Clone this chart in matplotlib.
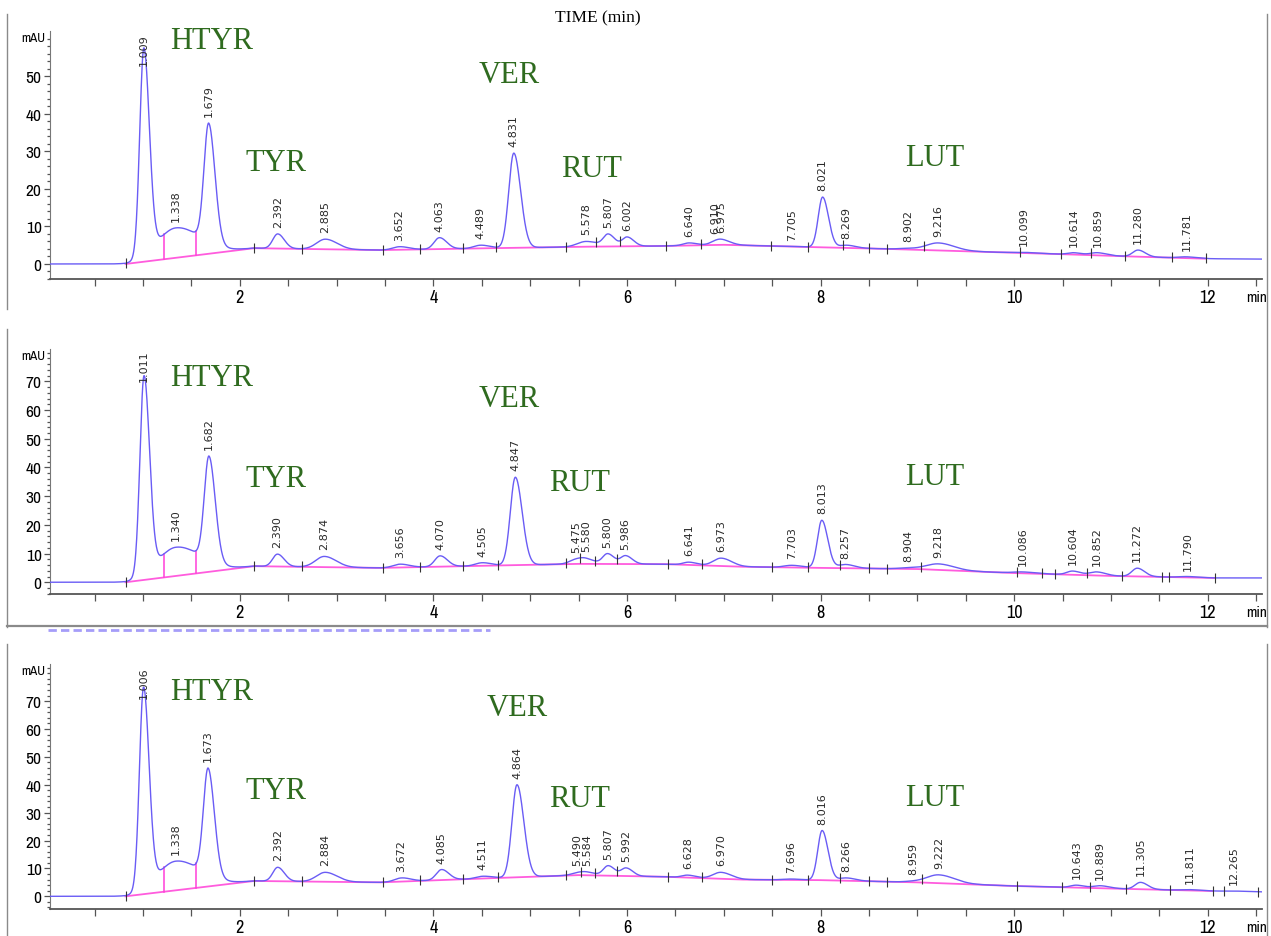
import numpy as np
import matplotlib
matplotlib.use("Agg")
import matplotlib.pyplot as plt
from matplotlib import font_manager
from matplotlib.lines import Line2D

# ---- panel 1 : peaks (retention time, apex mAU, width) ----
rt1 = [1.009, 1.338, 1.679, 2.392, 2.885, 3.652, 4.063, 4.489, 4.831, 5.578, 5.807, 6.002,
       6.640, 6.910, 6.975, 7.705, 8.021, 8.269, 8.902, 9.216, 10.099, 10.614, 10.859, 11.280, 11.781]
apex1 = [57.5, 9.6, 37.5, 8.0, 6.6, 4.6, 7.0, 5.0, 29.5, 6.0, 8.0, 7.2,
         5.6, 6.3, 6.6, 4.6, 17.8, 5.0, 4.2, 5.6, 3.1, 3.0, 3.0, 3.7, 1.9]
sig1 = [0.042, 0.19, 0.048, 0.05, 0.09, 0.07, 0.055, 0.07, 0.052, 0.09, 0.05, 0.05,
        0.06, 0.06, 0.07, 0.08, 0.045, 0.07, 0.09, 0.12, 0.1, 0.06, 0.07, 0.055, 0.08]
bgt1 = [0.04, 0.82, 2.15, 3.45, 4.6, 5.6, 6.4, 7.0, 7.9, 8.7, 9.6, 10.5, 11.2, 11.98, 12.56]
bgy1 = [0.0, 0.0, 4.2, 3.7, 4.2, 4.6, 4.8, 5.1, 4.5, 4.0, 3.3, 2.6, 2.0, 1.4, 1.3]
cuts1 = [0.82, 2.15, 2.64, 3.48, 3.86, 4.31, 4.65, 5.37, 5.68, 5.93, 6.40, 6.77, 7.49, 7.87,
         8.23, 8.50, 8.69, 9.07, 10.06, 10.48, 10.79, 11.14, 11.63, 11.98]

# ---- panel 2 ----
rt2 = [1.011, 1.340, 1.682, 2.390, 2.874, 3.656, 4.070, 4.505, 4.847, 5.475, 5.580, 5.800,
       5.986, 6.641, 6.973, 7.703, 8.013, 8.257, 8.904, 9.218, 10.086, 10.604, 10.852, 11.272, 11.790]
apex2 = [72.0, 12.2, 44.0, 9.8, 9.0, 6.3, 9.2, 6.8, 36.6, 8.2, 8.4, 10.0,
         9.3, 7.0, 8.4, 5.9, 21.6, 6.2, 5.1, 6.4, 3.6, 3.9, 3.6, 4.9, 2.0]
sig2 = [0.042, 0.19, 0.048, 0.05, 0.09, 0.07, 0.055, 0.07, 0.052, 0.07, 0.07, 0.05,
        0.05, 0.06, 0.08, 0.08, 0.045, 0.07, 0.09, 0.12, 0.1, 0.06, 0.07, 0.055, 0.08]
bgt2 = [0.04, 0.82, 2.15, 3.45, 4.6, 5.5, 6.4, 7.2, 8.0, 9.0, 10.0, 11.0, 12.07, 12.56]
bgy2 = [0.0, 0.0, 5.6, 5.0, 5.8, 6.4, 6.3, 5.4, 5.0, 4.6, 3.2, 2.2, 1.5, 1.5]
cuts2 = [0.82, 2.15, 2.64, 3.48, 3.86, 4.31, 4.67, 5.37, 5.51, 5.67, 5.90, 6.42, 6.78, 7.50,
         7.87, 8.20, 8.50, 8.69, 9.04, 10.03, 10.29, 10.42, 10.75, 11.11, 11.53, 11.60, 12.07]

# ---- panel 3 ----
rt3 = [1.006, 1.338, 1.673, 2.392, 2.884, 3.672, 4.085, 4.511, 4.864, 5.490, 5.584, 5.807,
       5.992, 6.628, 6.970, 7.696, 8.016, 8.266, 8.959, 9.222, 10.643, 10.889, 11.305, 11.811, 12.265]
apex3 = [75.0, 12.6, 46.0, 10.4, 8.6, 6.6, 9.6, 7.2, 40.0, 8.6, 8.8, 11.0,
         10.2, 7.6, 8.6, 6.2, 23.6, 6.6, 5.6, 7.7, 4.0, 3.8, 5.0, 2.4, 1.9]
sig3 = [0.042, 0.19, 0.048, 0.05, 0.09, 0.07, 0.055, 0.07, 0.052, 0.07, 0.07, 0.05,
        0.05, 0.06, 0.08, 0.08, 0.045, 0.07, 0.09, 0.12, 0.06, 0.07, 0.055, 0.08, 0.08]
bgt3 = [0.04, 0.82, 2.15, 3.45, 4.6, 5.5, 6.4, 7.2, 8.0, 9.0, 10.0, 11.0, 12.05, 12.56]
bgy3 = [0.0, 0.0, 5.5, 5.0, 6.5, 7.6, 7.0, 6.0, 5.8, 5.0, 3.7, 2.8, 1.9, 1.6]
cuts3 = [0.82, 2.15, 2.64, 3.48, 3.86, 4.31, 4.67, 5.37, 5.53, 5.67, 5.90, 6.42, 6.78, 7.50,
         7.87, 8.20, 8.50, 8.69, 9.05, 10.03, 10.49, 10.78, 11.15, 11.61, 12.05, 12.17, 12.52]

drops = [1.22, 1.55]
compounds = ["HTYR", "TYR", "VER", "RUT", "LUT"]

W, H = 1271, 937
BLUE = "#6a5cf5"
MAG = "#ff3fd8"
GREEN = "#2f6b1f"

# narrow font for the axis numbers, if one is around
names = sorted({f.name for f in font_manager.fontManager.ttflist})
narrow = [n for n in names if "Narrow" in n or "Condensed" in n]
if narrow:
    tickfont = dict(family=narrow[0])
else:
    tickfont = dict(family="Liberation Sans")


def peak(t, rt, s):
    sd = np.where(t < rt, s, s * 1.35)
    return np.exp(-0.5 * ((t - rt) / sd) ** 2)


def trace(t, rt, apex, sig, bgt, bgy):
    rt = np.array(rt)
    sig = np.array(sig)
    M = np.array([[peak(r, rj, sj) for rj, sj in zip(rt, sig)] for r in rt])
    h = np.linalg.solve(M, np.array(apex) - np.interp(rt, bgt, bgy))
    h = np.clip(h, 0.05, None)
    y = np.interp(t, bgt, bgy)
    for r, s, hh in zip(rt, sig, h):
        y = y + hh * peak(t, r, s)
    return y


def draw_panel(box, ylim, yticks, cap, rt, apex, sig, bgt, bgy, cuts, labpos):
    left, top, right, bottom = box
    ax = fig.add_axes([left / W, 1 - bottom / H, (right - left) / W, (bottom - top) / H])
    t = np.linspace(0.04, 12.56, 4000)
    y = trace(t, rt, apex, sig, bgt, bgy)

    ax.plot(bgt[1:-1], bgy[1:-1], color=MAG, lw=1.3, alpha=0.85, zorder=2)
    for d in drops:
        ax.plot([d, d], [np.interp(d, bgt, bgy), np.interp(d, t, y)], color=MAG, lw=1.1, zorder=2)
    ax.plot(t, y, color=BLUE, lw=1.0, zorder=3)
    ax.plot(cuts, np.interp(cuts, t, y), ls="none", marker="|", ms=7, mew=0.8,
            color="#333333", zorder=4)

    for r, a in zip(rt, apex):
        if a > cap:
            ax.text(r, cap, f"{r:.3f}", rotation=90, ha="center", va="bottom",
                    fontsize=8, color="#2a2a2a", clip_on=False, zorder=5)
        else:
            ax.annotate(f"{r:.3f}", xy=(r, a), xytext=(0, 5), textcoords="offset points",
                        rotation=90, ha="center", va="bottom", fontsize=8, color="#2a2a2a",
                        annotation_clip=False, zorder=5)

    for name, (lx, ly) in zip(compounds, labpos):
        ax.text(lx, ly, name, ha="center", va="center", fontsize=22,
                family="Liberation Serif", color=GREEN)

    ax.set_xlim(0.04, 12.56)
    ax.set_ylim(*ylim)
    ax.set_xticks(np.arange(0.5, 12.6, 0.5), minor=True)
    ax.set_xticks([2, 4, 6, 8, 10, 12])
    ax.set_xticklabels(["2", "4", "6", "8", "10", "12"], fontsize=13, **tickfont)
    ax.set_yticks(yticks)
    ax.set_yticklabels([str(v) for v in yticks], fontsize=12.5, **tickfont)
    ax.set_yticks(np.arange(-4, ylim[1], 2), minor=True)
    ax.tick_params(axis="x", which="both", direction="out", length=5, width=0.9,
                   color="#555555", pad=2)
    ax.tick_params(axis="y", which="major", direction="out", length=4, width=0.9,
                   color="#555555", pad=2)
    ax.tick_params(axis="y", which="minor", direction="out", length=2, width=0.9,
                   color="#555555")
    for s in ["top", "right"]:
        ax.spines[s].set_visible(False)
    ax.spines["left"].set_color("#777777")
    ax.spines["left"].set_linewidth(0.8)
    ax.spines["bottom"].set_color("#555555")
    ax.spines["bottom"].set_linewidth(1.3)
    ax.patch.set_visible(False)

    ax.text(-0.004, 0.975, "mAU", transform=ax.transAxes, ha="right", va="center",
            fontsize=9.5, **tickfont)
    ax.annotate("min", xy=(12.5, 0), xycoords=("data", "axes fraction"), xytext=(0, -8),
                textcoords="offset points", ha="center", va="top", fontsize=11, **tickfont)
    return ax


fig = plt.figure(figsize=(W / 100, H / 100), dpi=100)

draw_panel((50, 32, 1262, 280), (-3.2, 62), [0, 10, 20, 30, 40, 50], 53,
           rt1, apex1, sig1, bgt1, bgy1, cuts1,
           [(1.71, 59.5), (2.37, 27.1), (4.78, 50.5), (5.63, 25.5), (9.18, 28.4)])
draw_panel((50, 350, 1262, 595), (-4.1, 81.3), [0, 10, 20, 30, 40, 50, 60, 70], 70,
           rt2, apex2, sig2, bgt2, bgy2, cuts2,
           [(1.71, 71.2), (2.37, 36.3), (4.78, 63.9), (5.51, 34.6), (9.18, 36.9)])
draw_panel((50, 665, 1262, 910), (-4.55, 83.3), [0, 10, 20, 30, 40, 50, 60, 70], 71,
           rt3, apex3, sig3, bgt3, bgy3, cuts3,
           [(1.71, 73.5), (2.37, 38.0), (4.87, 67.8), (5.51, 35.2), (9.18, 35.6)])

fig.text(598 / W, 1 - 18 / H, "TIME (min)", ha="center", va="center", fontsize=12.5,
         family="Liberation Serif")


def frame(x0, y0, x1, y1, **kw):
    fig.add_artist(Line2D([x0 / W, x1 / W], [1 - y0 / H, 1 - y1 / H],
                          transform=fig.transFigure, **kw))


gray = dict(color="#8a8a8a", lw=1.0)
frame(7, 15, 7, 310, **gray)
frame(7, 330, 7, 628, **gray)
frame(7, 645, 7, 937, **gray)
frame(1267, 15, 1267, 628, **gray)
frame(1267, 645, 1267, 937, **gray)
frame(7, 627, 1267, 627, color="#8a8a8a", lw=1.6)
frame(48, 631, 490, 631, color=BLUE, lw=2.0, alpha=0.6, ls=(0, (3, 1.5)))

fig.savefig("out.png", dpi=100)
